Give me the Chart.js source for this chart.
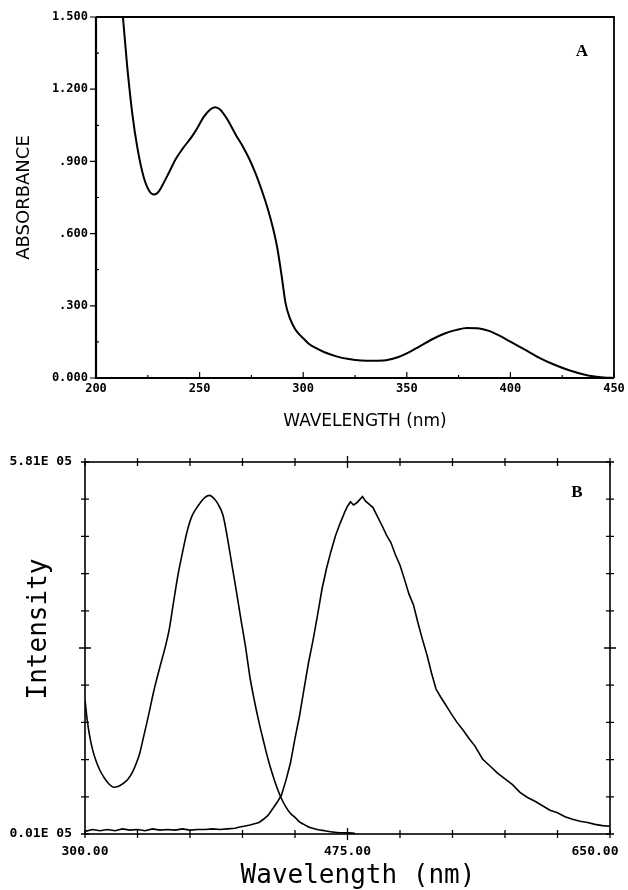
<!DOCTYPE html>
<html>
<head>
<meta charset="utf-8">
<script src="https://cdn.jsdelivr.net/npm/chart.js@4.4.0/dist/chart.umd.min.js"></script>
<style>
    body { margin: 0; background: #fff; }
    canvas { display: block; }
</style>
</head>
<body>
<canvas id="chartA" width="628" height="445"></canvas>
<canvas id="chartB" width="628" height="445"></canvas>
<script>
// panel A: absorbance spectrum
const absNm = [210, 213, 215, 217.5, 220, 223, 225.5, 228, 230, 232, 235, 238.5, 242, 246, 249, 252, 255, 257.5, 260, 263, 267.5, 271, 274, 277, 280, 283, 285.5, 287.5, 289.5, 291.5, 293.5, 296, 298, 300, 303, 306, 310, 316, 322, 328, 334, 340, 346, 350, 356, 362, 368, 374, 379, 385, 390, 395, 400, 407, 414, 421, 428, 434, 439, 445, 450];
const absVal = [1.80, 1.50, 1.30, 1.10, 0.955, 0.835, 0.78, 0.762, 0.772, 0.80, 0.85, 0.91, 0.955, 1.00, 1.04, 1.085, 1.115, 1.125, 1.115, 1.08, 1.01, 0.96, 0.91, 0.85, 0.78, 0.70, 0.62, 0.54, 0.43, 0.31, 0.25, 0.205, 0.182, 0.165, 0.14, 0.125, 0.108, 0.09, 0.079, 0.073, 0.072, 0.074, 0.087, 0.102, 0.13, 0.16, 0.184, 0.20, 0.208, 0.206, 0.195, 0.175, 0.151, 0.118, 0.084, 0.056, 0.033, 0.018, 0.008, 0.002, 0.0];
const absXTicks = [200, 250, 300, 350, 400, 450];
const absYTicks = [0, 0.3, 0.6, 0.9, 1.2, 1.5];
const absYLabels = ['0.000', '.300', '.600', '.900', '1.200', '1.500'];

// panel B: excitation and emission (units of 1E05)
const excNm = [300, 301.5, 303, 305, 307.5, 310, 313, 316, 319, 322, 325, 328.5, 332, 334, 336.5, 339, 341, 343, 345, 347, 350, 353, 356, 359, 362, 365, 368, 371, 374, 377, 380, 383, 386, 389, 392, 395, 398, 401, 404, 407, 410, 413, 416, 419, 422, 425, 428, 431, 434, 437, 440, 443, 446, 450, 455, 460, 465, 470, 475, 480];
const excVal = [2.10, 1.78, 1.55, 1.33, 1.14, 1.00, 0.88, 0.79, 0.74, 0.75, 0.79, 0.86, 0.99, 1.10, 1.27, 1.52, 1.72, 1.93, 2.15, 2.35, 2.62, 2.88, 3.18, 3.62, 4.05, 4.40, 4.72, 4.95, 5.08, 5.18, 5.26, 5.29, 5.24, 5.14, 4.98, 4.62, 4.20, 3.78, 3.35, 2.93, 2.45, 2.08, 1.75, 1.46, 1.18, 0.94, 0.73, 0.56, 0.43, 0.33, 0.27, 0.20, 0.16, 0.11, 0.08, 0.06, 0.04, 0.03, 0.03, 0.02];
const emNm = [300, 305, 310, 315, 320, 325, 330, 335, 340, 345, 350, 355, 360, 365, 370, 375, 380, 385, 390, 395, 400, 403, 406, 410, 413, 416, 419, 422, 425, 428, 431, 434, 437, 440, 443, 446, 449, 452, 455, 458, 461, 464, 467, 470, 473, 475, 477, 479, 481, 483, 485, 487, 489, 492, 495, 498, 501, 504, 507, 510, 513, 516, 519, 522, 525, 528, 531, 534, 537, 540, 544, 548, 552, 556, 560, 565, 570, 575, 580, 585, 590, 595, 600, 605, 610, 615, 620, 625, 630, 635, 640, 645, 650];
const emVal = [0.05, 0.08, 0.06, 0.08, 0.06, 0.09, 0.07, 0.08, 0.06, 0.09, 0.07, 0.08, 0.07, 0.09, 0.07, 0.08, 0.08, 0.09, 0.08, 0.09, 0.10, 0.12, 0.13, 0.15, 0.17, 0.19, 0.24, 0.30, 0.40, 0.50, 0.62, 0.85, 1.12, 1.50, 1.85, 2.27, 2.68, 3.03, 3.42, 3.83, 4.15, 4.42, 4.66, 4.85, 5.02, 5.12, 5.19, 5.14, 5.17, 5.22, 5.27, 5.20, 5.16, 5.10, 4.96, 4.82, 4.67, 4.55, 4.36, 4.20, 3.98, 3.75, 3.58, 3.30, 3.04, 2.80, 2.52, 2.27, 2.15, 2.04, 1.89, 1.75, 1.63, 1.50, 1.38, 1.18, 1.07, 0.96, 0.87, 0.78, 0.66, 0.58, 0.52, 0.45, 0.38, 0.34, 0.28, 0.24, 0.21, 0.19, 0.16, 0.14, 0.13];
const emXTicks = [300, 475, 650];
const emXLabels = ['300.00', '475.00', '650.00'];
const emYTicks = [0.01, 5.81];
const emYLabels = ['0.01E 05', '5.81E 05'];

function pts(xs, ys) {
    return xs.map((x, i) => ({ x: x, y: ys[i] }));
}

function vText(ctx, text, x, y) {
    ctx.save();
    ctx.translate(x, y);
    ctx.rotate(-Math.PI / 2);
    ctx.textAlign = 'center';
    ctx.textBaseline = 'middle';
    ctx.fillText(text, 0, 0);
    ctx.restore();
}

const frameA = {
    id: 'frameA',
    afterDraw(chart) {
        const ctx = chart.ctx;
        const a = chart.chartArea;
        const xs = chart.scales.x, ys = chart.scales.y;
        ctx.save();
        ctx.strokeStyle = '#000';
        ctx.lineWidth = 2.2;
        ctx.beginPath();
        ctx.moveTo(a.left, a.top);
        ctx.lineTo(a.left, a.bottom);
        ctx.lineTo(a.right, a.bottom);
        ctx.stroke();
        ctx.lineWidth = 1.8;
        ctx.beginPath();
        ctx.moveTo(a.left, a.top);
        ctx.lineTo(a.right, a.top);
        ctx.lineTo(a.right, a.bottom);
        ctx.stroke();

        ctx.lineWidth = 1.2;
        ctx.beginPath();
        for (let v = 200; v <= 450; v += 25) {
            const px = xs.getPixelForValue(v);
            const len = (v % 50 === 0) ? 6 : 3;
            ctx.moveTo(px, a.bottom);
            ctx.lineTo(px, a.bottom - len);
        }
        for (let k = 0; k <= 10; k++) {
            const py = ys.getPixelForValue(k * 0.15);
            if (k % 2 === 0) {
                ctx.moveTo(a.left, py);
                ctx.lineTo(a.left - 6, py);
            } else {
                ctx.moveTo(a.left, py);
                ctx.lineTo(a.left + 3, py);
            }
        }
        ctx.stroke();

        ctx.fillStyle = '#000';
        ctx.font = 'bold 12px "DejaVu Sans Mono"';
        ctx.textAlign = 'right';
        ctx.textBaseline = 'middle';
        absYTicks.forEach((v, i) => {
            ctx.fillText(absYLabels[i], 88, ys.getPixelForValue(v));
        });
        ctx.textAlign = 'center';
        absXTicks.forEach((v) => {
            ctx.fillText(String(v), xs.getPixelForValue(v), a.bottom + 11);
        });

        ctx.font = '18px "DejaVu Sans"';
        vText(ctx, 'ABSORBANCE', 24, (a.top + a.bottom) / 2);
        ctx.font = '17px "DejaVu Sans"';
        ctx.textAlign = 'center';
        ctx.fillText('WAVELENGTH (nm)', 365, 422);

        ctx.font = 'bold 17px "Liberation Serif"';
        ctx.fillText('A', 582, 52);
        ctx.restore();
    }
};

const frameB = {
    id: 'frameB',
    afterDraw(chart) {
        const ctx = chart.ctx;
        const a = chart.chartArea;
        const xs = chart.scales.x, ys = chart.scales.y;
        ctx.save();
        ctx.strokeStyle = '#000';
        ctx.lineWidth = 1.6;
        ctx.strokeRect(a.left, a.top, a.right - a.left, a.bottom - a.top);

        ctx.lineWidth = 1.3;
        ctx.beginPath();
        for (let k = 0; k <= 10; k++) {
            const px = xs.getPixelForValue(300 + k * 35);
            const len = (k === 5) ? 6 : 4;
            ctx.moveTo(px, a.bottom - len);
            ctx.lineTo(px, a.bottom + len);
            ctx.moveTo(px, a.top - len);
            ctx.lineTo(px, a.top + len);
            const py = ys.getPixelForValue(0.01 + k * 0.58);
            ctx.moveTo(a.left - len, py);
            ctx.lineTo(a.left + len, py);
            ctx.moveTo(a.right - len, py);
            ctx.lineTo(a.right + len, py);
        }
        ctx.stroke();

        ctx.fillStyle = '#000';
        ctx.font = 'bold 13px "DejaVu Sans Mono"';
        ctx.textAlign = 'right';
        ctx.textBaseline = 'middle';
        emYTicks.forEach((v, i) => {
            ctx.fillText(emYLabels[i], 72, ys.getPixelForValue(v));
        });
        ctx.textAlign = 'center';
        emXTicks.forEach((v, i) => {
            let px = xs.getPixelForValue(v);
            if (i === emXTicks.length - 1) px = 595;
            ctx.fillText(emXLabels[i], px, a.bottom + 18);
        });

        ctx.font = '26px "DejaVu Sans Mono"';
        vText(ctx, 'Intensity', 39, 184);
        ctx.textAlign = 'center';
        ctx.fillText('Wavelength (nm)', 358, 431);

        ctx.font = 'bold 17px "Liberation Serif"';
        ctx.fillText('B', 577, 48);
        ctx.restore();
    }
};

function hiddenScales(xmin, xmax, ymin, ymax) {
    return {
        x: { type: 'linear', min: xmin, max: xmax, display: false },
        y: { type: 'linear', min: ymin, max: ymax, display: false }
    };
}

var absChart = new Chart(document.getElementById('chartA').getContext('2d'), {
    type: 'line',
    data: {
        datasets: [{
            label: 'Absorbance',
            data: pts(absNm, absVal),
            borderColor: '#000',
            borderWidth: 2,
            pointRadius: 0,
            fill: false,
            cubicInterpolationMode: 'monotone'
        }]
    },
    options: {
        responsive: false,
        animation: false,
        devicePixelRatio: 1,
        layout: { padding: { left: 96, top: 17, right: 14, bottom: 67 } },
        scales: hiddenScales(200, 450, 0, 1.5),
        plugins: { legend: { display: false }, tooltip: { enabled: false } }
    },
    plugins: [frameA]
});

var flChart = new Chart(document.getElementById('chartB').getContext('2d'), {
    type: 'line',
    data: {
        datasets: [{
            label: 'Excitation',
            data: pts(excNm, excVal),
            borderColor: '#000',
            borderWidth: 1.6,
            pointRadius: 0,
            fill: false,
            cubicInterpolationMode: 'monotone'
        }, {
            label: 'Emission',
            data: pts(emNm, emVal),
            borderColor: '#000',
            borderWidth: 1.6,
            pointRadius: 0,
            fill: false,
            tension: 0
        }]
    },
    options: {
        responsive: false,
        animation: false,
        devicePixelRatio: 1,
        layout: { padding: { left: 85, top: 17, right: 18, bottom: 56 } },
        scales: hiddenScales(300, 650, 0.01, 5.81),
        plugins: { legend: { display: false }, tooltip: { enabled: false } }
    },
    plugins: [frameB]
});
</script>
</body>
</html>
